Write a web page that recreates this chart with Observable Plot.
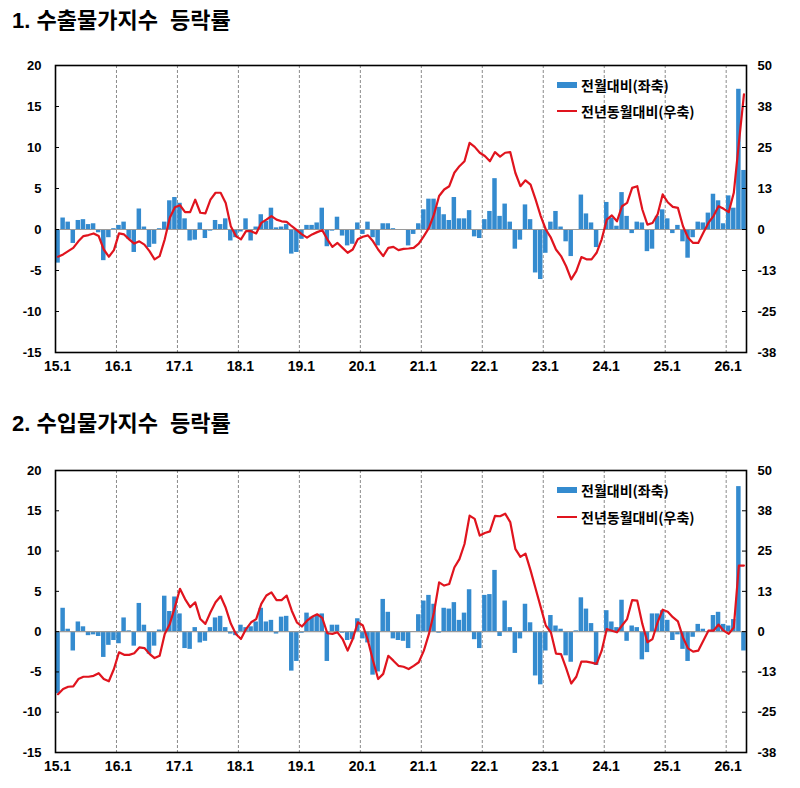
<!DOCTYPE html>
<html><head><meta charset="utf-8">
<script src="https://cdn.jsdelivr.net/npm/d3@7"></script>
<script src="https://cdn.jsdelivr.net/npm/@observablehq/plot@0.6"></script>
<style>
body{margin:0;background:#fff;}
#wrap{position:relative;width:800px;height:788px;font-family:"Liberation Sans","Noto Sans CJK KR",Arial,sans-serif;font-weight:bold;color:#000;}
.title{position:absolute;left:12px;font-size:22px;line-height:24px;white-space:pre;font-family:"Liberation Sans","Noto Sans CJK KR",sans-serif;font-weight:bold;}
.unit{position:absolute;font-size:13px;line-height:14px;}
.leg{position:absolute;font-size:14px;line-height:16px;font-family:"Noto Sans CJK KR","Liberation Sans",sans-serif;font-weight:bold;white-space:nowrap;}
.sw{position:absolute;}
.panel{position:absolute;left:0;}
</style></head>
<body><div id="wrap">
<div class="title" style="top:9px">1. 수출물가지수  등락률</div>
<div class="title" style="top:412px">2. 수입물가지수  등락률</div>
<div class="unit" style="left:52px;top:50px">(%)</div>
<div class="unit" style="left:725px;top:50px">(%)</div>
<div class="unit" style="left:52px;top:454px">(%)</div>
<div class="unit" style="left:725px;top:454px">(%)</div>
<div id="p1" class="panel" style="top:40px"></div>
<div id="p2" class="panel" style="top:445px"></div>
<div class="sw" style="left:557px;top:82px;width:20px;height:6px;background:#348bcf"></div>
<div class="leg" style="left:581px;top:77px">전월대비(좌축)</div>
<div class="sw" style="left:557px;top:110px;width:20px;height:2px;background:#e0141e"></div>
<div class="leg" style="left:581px;top:103px">전년동월대비(우축)</div>
<div class="sw" style="left:557px;top:487px;width:20px;height:6px;background:#348bcf"></div>
<div class="leg" style="left:581px;top:482px">전월대비(좌축)</div>
<div class="sw" style="left:557px;top:516px;width:20px;height:2px;background:#e0141e"></div>
<div class="leg" style="left:581px;top:509px">전년동월대비(우축)</div>
</div>
<script>
// x-axis tick labels (one per January, 2015..2026)
const yearLabels = ["15.1","16.1","17.1","18.1","19.1","20.1","21.1","22.1","23.1","24.1","25.1","26.1"];
// left-axis ticks and matching right-axis tick labels
const leftTicks = [-15,-10,-5,0,5,10,15,20];
const rightTickLabels = ["-38","-25","-13","0","13","25","38","50"];
const axisRatio = 2.5; // right axis value per left axis unit

// 1. 수출물가지수: 전월대비 (left axis), 2015.1 .. 2026.4
const exportMoM = [
 -4.1,1.4,0.9,-1.7,1.1,1.2,0.6,0.7,-0.4,-3.8,-1.0,0.1,
 0.5,0.9,-1.2,-2.8,2.5,0.3,-2.2,-1.8,0.1,0.9,3.5,3.9,
 3.2,1.3,-1.4,-1.3,0.8,-1.1,-0.2,1.1,0.6,1.3,-1.4,-1.0,
 -0.3,1.3,-1.4,0.3,1.8,1.0,2.6,0.2,0.3,0.6,-3.0,-2.8,
 -1.2,0.5,0.5,0.8,2.6,-2.1,-0.2,1.5,-0.8,-2.0,-1.8,0.8,
 -0.6,0.9,-1.0,-2.0,0.7,0.7,0.1,0.0,0.0,-2.0,-0.6,0.7,
 2.4,3.7,3.7,2.7,1.8,1.1,3.9,1.3,1.3,2.3,-0.9,-1.1,
 1.2,2.2,6.2,1.6,3.1,0.9,-2.4,-1.3,3.0,1.2,-5.3,-6.1,
 -2.9,0.9,2.2,0.3,-1.5,-3.3,0.0,4.2,1.9,0.8,-2.2,0.0,
 3.3,1.4,0.4,4.5,1.6,-0.5,0.9,0.8,-2.7,-2.4,1.6,2.4,
 1.3,-0.5,0.5,-1.5,-3.5,-1.0,0.9,0.8,2.0,4.3,3.5,0.7,
 4.1,2.6,17.1,7.2];
// 1. 수출물가지수: 전년동월대비 (right axis)
const exportYoY = [
 -8.3,-7.6,-6.6,-5.6,-3.6,-2.0,-1.7,-1.2,-2.0,-6.1,-8.3,-6.3,
 -1.2,-1.5,-3.0,-4.3,-3.6,-4.6,-6.6,-9.1,-8.1,-3.0,3.6,6.8,
 7.4,5.3,5.3,9.1,5.1,4.9,9.1,11.2,11.2,8.1,1.0,-2.0,
 -3.0,-0.5,-0.5,-1.2,2.0,3.0,4.1,3.0,2.5,2.3,1.0,-0.2,
 -1.5,-2.5,-1.5,-0.8,-0.2,-3.0,-5.3,-4.1,-5.6,-7.1,-6.1,-3.0,
 -2.2,-1.8,-3.6,-6.1,-8.1,-5.6,-5.3,-6.3,-5.9,-5.8,-5.6,-4.3,
 -2.0,0.5,4.6,10.2,12.2,13.2,17.3,19.3,20.8,26.4,25.2,23.4,
 22.4,20.8,23.6,22.2,23.4,23.6,17.3,13.2,15.0,13.7,9.1,4.1,
 0.0,-2.5,-6.1,-8.1,-11.2,-15.2,-12.7,-8.4,-9.1,-9.1,-7.1,-3.0,
 3.0,4.3,2.5,7.1,8.1,12.7,13.2,6.1,1.5,2.0,4.6,10.7,
 8.3,6.9,6.6,1.0,-2.5,-4.1,-4.1,-1.0,2.0,4.1,7.1,6.3,
 5.3,11.2,26.4,41.2];
// 2. 수입물가지수: 전월대비 (left axis)
const importMoM = [
 -7.7,2.9,0.3,-2.4,1.2,0.6,-0.5,-0.4,-0.6,-3.2,-1.7,-1.1,
 -1.5,1.7,0.1,-1.8,3.5,0.8,-2.8,-1.8,0.2,4.4,2.5,4.3,
 2.2,-2.1,-2.2,0.5,-1.4,-1.2,0.5,1.7,1.9,0.5,-0.3,-0.5,
 0.8,0.5,0.6,1.2,2.9,1.2,1.4,-0.3,1.8,1.9,-4.9,-3.7,
 -0.2,2.3,1.8,2.0,2.2,-3.7,0.8,0.8,-0.2,-1.1,-1.0,1.6,
 -0.9,-1.4,-5.4,-5.0,4.0,2.4,-0.9,-1.1,-1.2,-2.1,0.0,2.1,
 3.8,4.5,3.4,-0.2,2.9,2.8,3.6,1.4,2.3,5.2,-1.0,-2.1,
 4.5,4.6,7.6,-0.6,3.8,0.5,-2.7,-0.9,3.4,1.1,-5.5,-6.6,
 -2.4,2.0,0.7,0.3,-3.0,-3.8,0.1,4.2,2.8,1.0,-4.2,0.0,
 2.6,1.2,0.5,3.9,-1.2,0.7,0.5,-3.5,-2.6,2.2,2.2,2.6,
 1.4,-1.1,-0.4,-2.2,-3.7,-0.7,0.9,0.3,0.0,2.0,2.4,0.9,
 0.7,1.5,18.0,-2.4];
// 2. 수입물가지수: 전년동월대비 (right axis)
const importYoY = [
 -19.4,-17.8,-17.1,-17.0,-14.7,-14.0,-14.0,-13.7,-12.9,-14.7,-15.4,-11.6,
 -6.4,-7.2,-7.2,-6.7,-4.9,-5.1,-6.9,-8.2,-7.5,-0.7,2.4,7.6,
 13.3,10.1,7.6,9.1,3.9,2.4,6.0,9.1,11.0,7.4,2.5,-0.7,
 -2.3,0.8,2.9,3.9,8.6,11.2,12.2,9.8,9.8,11.2,6.5,2.9,
 1.6,3.4,4.6,5.4,4.3,-0.5,-0.7,-0.2,-2.3,-5.9,-2.3,2.9,
 1.9,-2.8,-9.0,-14.7,-13.1,-7.5,-9.0,-10.6,-10.9,-11.6,-10.6,-9.5,
 -5.9,-0.7,6.0,15.3,14.3,14.8,19.9,22.5,27.2,36.0,35.0,29.8,
 30.6,31.1,35.9,35.8,36.6,34.0,25.7,23.2,24.2,19.0,13.3,7.6,
 1.9,-0.2,-6.8,-7.0,-11.3,-16.1,-14.0,-9.3,-9.3,-9.6,-10.0,-5.9,
 0.8,0.3,-0.2,1.9,3.9,9.8,9.6,2.4,-3.3,-2.3,2.9,6.8,
 6.2,4.5,3.2,-1.8,-5.2,-6.2,-5.9,-2.8,0.3,0.3,2.2,0.3,
 -0.7,1.3,20.5,20.5];

const barColor = "#348bcf";
const lineColor = "#e0141e";
const fmtLeft = d => (d < 0 ? "-" : "") + Math.abs(d);

function panel(mom, yoy, plotH) {
  const n = mom.length;
  const data = mom.map((v, i) => ({i, mom: v, yoy: yoy[i]}));
  const yearIdx = yearLabels.map((_, k) => k * 12);
  const plotW = 800 - 55 - 54;
  return Plot.plot({
    width: 800,
    height: 25 + plotH + 30,
    marginTop: 25, marginBottom: 30, marginLeft: 55, marginRight: 54,
    x: {type: "linear", domain: [0, n], axis: null},
    y: {domain: [-15, 20], axis: null},
    style: {fontFamily: "'Liberation Sans','Noto Sans CJK KR',Arial,sans-serif", fontSize: "13px", fontWeight: "bold", color: "#000", background: "#fff", overflow: "visible"},
    marks: [
      Plot.ruleX(yearIdx.slice(1), {stroke: "#8a8a8a", strokeDasharray: "3,2", strokeWidth: 1}),
      Plot.rectY(data, {x1: "i", x2: d => d.i + 1, y: "mom", fill: barColor, insetLeft: 0.3, insetRight: 0.3}),
      Plot.ruleY([0], {stroke: "#9a9a9a", strokeWidth: 1.2}),
      Plot.line(data, {x: d => d.i + 0.5, y: d => d.yoy / axisRatio, stroke: lineColor, strokeWidth: 2.2, strokeLinejoin: "round"}),
      Plot.frame({stroke: "#000", strokeWidth: 1.6}),
      // inward tick marks on both y axes
      Plot.tickY(leftTicks, {y: d => d, stroke: "#000", insetRight: plotW - 4}),
      Plot.tickY(leftTicks, {y: d => d, stroke: "#000", insetLeft: plotW - 4}),
      // left axis labels
      Plot.text(leftTicks, {y: d => d, text: fmtLeft, frameAnchor: "left", textAnchor: "end", dx: -14, fontSize: 13, fill: "#000"}),
      // right axis labels
      Plot.text(leftTicks, {y: d => d, text: (d, k) => rightTickLabels[k], frameAnchor: "right", textAnchor: "start", dx: 11, fontSize: 13, fill: "#000"}),
      // x axis labels
      Plot.text(yearIdx, {x: d => d, text: (d, k) => yearLabels[k], frameAnchor: "bottom", lineAnchor: "top", dy: 9, dx: 2, fontSize: 14, fill: "#000"})
    ]
  });
}

document.getElementById("p1").append(panel(exportMoM, exportYoY, 287));
document.getElementById("p2").append(panel(importMoM, importYoY, 282));
</script>
</body></html>
